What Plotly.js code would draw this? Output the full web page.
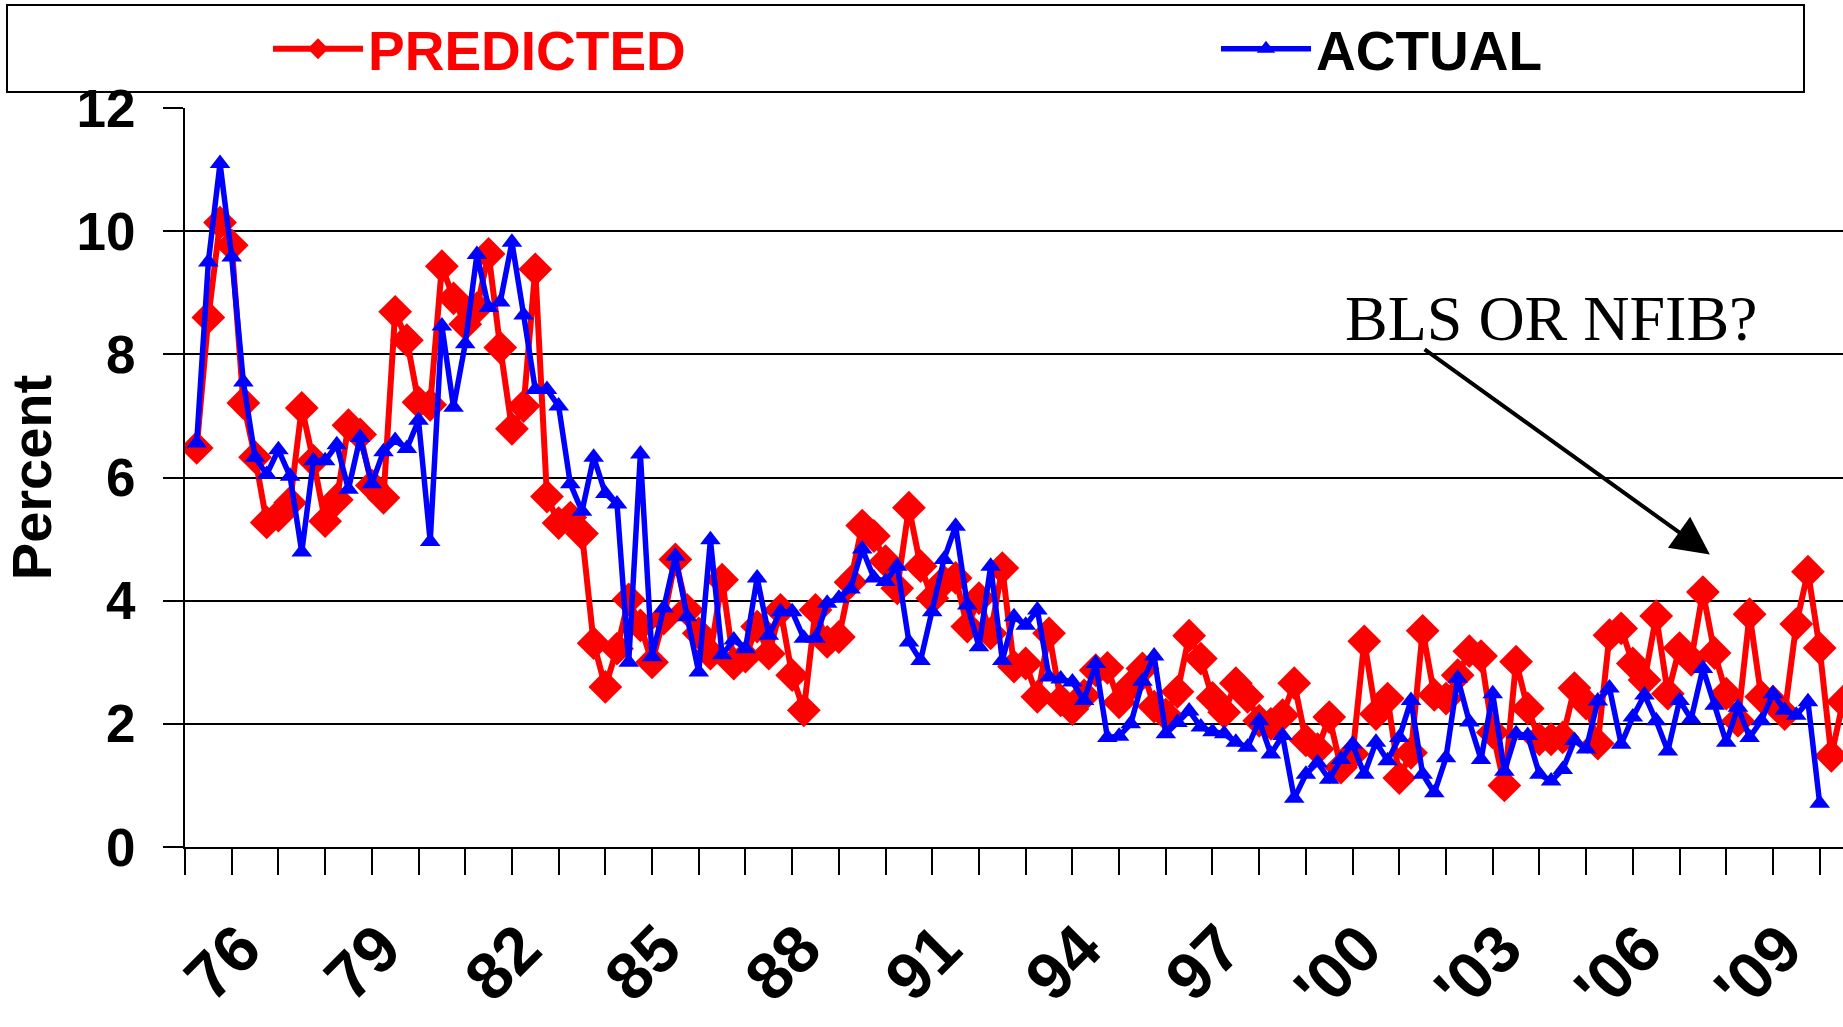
<!DOCTYPE html>
<html>
<head>
<meta charset="utf-8">
<script src="https://cdn.plot.ly/plotly-3.0.1.min.js"></script>
<style>
  html, body { margin: 0; padding: 0; background: #ffffff; }
  #chart { width: 1843px; height: 1027px; }
</style>
</head>
<body>
<div id="chart"></div>
<script>
// ---- Data (quarterly) ----
const firstYear = 1975;      // first observation: 1975 Q2
const firstQuarter = 2;

const predicted = [
  6.48, 8.60, 10.14, 9.77, 7.21, 6.33, 5.27, 5.38, 5.59, 7.13,
  6.27, 5.29, 5.64, 6.85, 6.70, 5.87, 5.67, 8.69, 8.23, 7.22,
  7.18, 9.43, 8.91, 8.49, 8.75, 9.63, 8.11, 6.79, 7.16, 9.38,
  5.69, 5.26, 5.35, 5.09, 3.31, 2.60, 3.22, 4.02, 3.60, 3.00,
  3.71, 4.67, 3.85, 3.47, 3.14, 4.34, 2.98, 3.09, 3.58, 3.14,
  3.85, 2.79, 2.22, 3.85, 3.33, 3.41, 4.30, 5.22, 5.05, 4.64,
  4.20, 5.51, 4.56, 4.04, 4.31, 4.37, 3.58, 4.04, 3.47, 4.53,
  2.93, 2.98, 2.44, 3.47, 2.38, 2.24, 2.46, 2.87, 2.91, 2.35,
  2.62, 2.90, 2.28, 2.15, 2.52, 3.43, 3.06, 2.42, 2.19, 2.66,
  2.44, 2.05, 2.00, 2.14, 2.66, 1.73, 1.59, 2.11, 1.29, 1.51,
  3.34, 2.16, 2.41, 1.12, 1.53, 3.51, 2.47, 2.41, 2.79, 3.18,
  3.10, 1.86, 1.00, 3.01, 2.25, 1.75, 1.75, 1.78, 2.58, 2.33,
  1.68, 3.44, 3.55, 2.98, 2.71, 3.75, 2.49, 3.23, 3.04, 4.14,
  3.15, 2.49, 2.05, 3.78, 2.44, 2.36, 2.16, 3.62, 4.47, 3.23,
  1.48, 2.36
];

const actual = [
  6.56, 9.50, 11.10, 9.58, 7.55, 6.33, 6.05, 6.45, 6.02, 4.79,
  6.27, 6.27, 6.53, 5.81, 6.65, 5.90, 6.42, 6.60, 6.47, 6.93,
  4.96, 8.46, 7.14, 8.17, 9.62, 8.76, 8.85, 9.82, 8.64, 7.43,
  7.43, 7.16, 5.90, 5.45, 6.33, 5.74, 5.57, 3.00, 6.38, 3.09,
  3.88, 4.72, 3.74, 2.84, 4.99, 3.12, 3.36, 3.22, 4.37, 3.44,
  3.82, 3.82, 3.39, 3.39, 3.96, 4.04, 4.19, 4.84, 4.37, 4.31,
  4.56, 3.33, 3.03, 3.82, 4.67, 5.21, 3.93, 3.25, 4.56, 3.03,
  3.74, 3.60, 3.85, 2.76, 2.73, 2.68, 2.38, 2.98, 1.78, 1.80,
  2.00, 2.69, 3.10, 1.84, 2.02, 2.21, 1.95, 1.87, 1.84, 1.70,
  1.62, 2.05, 1.51, 1.81, 0.79, 1.18, 1.37, 1.10, 1.42, 1.67,
  1.18, 1.70, 1.40, 1.78, 2.38, 1.18, 0.88, 1.45, 2.74, 2.03,
  1.42, 2.49, 1.23, 1.84, 1.81, 1.18, 1.07, 1.26, 1.73, 1.59,
  2.37, 2.58, 1.67, 2.11, 2.47, 2.05, 1.56, 2.38, 2.08, 2.90,
  2.30, 1.70, 2.27, 1.78, 2.05, 2.49, 2.22, 2.14, 2.36, 0.71
];

const yTickValues = [0, 2, 4, 6, 8, 10, 12];
const labelYears = [1976, 1979, 1982, 1985, 1988, 1991, 1994, 1997, 2000, 2003, 2006, 2009];
const labelText = ['76', '79', '82', '85', '88', '91', '94', '97', "'00", "'03", "'06", "'09"];

const seriesNames = ['PREDICTED', 'ACTUAL'];
const annotationText = 'BLS OR NFIB?';

// quarter positions as decimal years
function quarterX(n) {
  const out = [];
  for (let i = 0; i < n; i++) out.push(firstYear + (firstQuarter - 1) / 4 + i / 4);
  return out;
}

// ---- geometry helpers (plot area in pixels) ----
const W = 1843, H = 1027;
const M = { l: 185, r: 0, t: 108, b: 180 };
const plotW = W - M.l - M.r, plotH = H - M.t - M.b;
const px2x = px => (px - M.l) / plotW;
const py2y = py => (H - M.b - py) / plotH;

const RED = '#ff0000', BLUE = '#0000ff';
const SANS = 'Liberation Sans, Arial, Helvetica, sans-serif';
const SERIF = 'Liberation Serif, Times New Roman, serif';

const traces = [
  {
    x: quarterX(predicted.length), y: predicted,
    name: seriesNames[0], type: 'scatter', mode: 'lines+markers',
    line: { color: RED, width: 6 },
    marker: { symbol: 'diamond', size: 26, color: RED },
    legend: 'legend'
  },
  {
    x: quarterX(actual.length), y: actual,
    name: seriesNames[1], type: 'scatter', mode: 'lines+markers',
    line: { color: BLUE, width: 5.5 },
    marker: { symbol: 'triangle-up', size: 18, color: BLUE },
    legend: 'legend2'
  }
];

const layout = {
  width: W, height: H,
  margin: M,
  paper_bgcolor: '#ffffff', plot_bgcolor: '#ffffff',
  font: { family: SANS, color: '#000000' },
  xaxis: {
    range: [1975, 2010.5],
    showline: true, linecolor: '#000', linewidth: 2,
    showgrid: false, zeroline: false,
    tickmode: 'array',
    tickvals: labelYears.map(y => y + 0.2),
    ticktext: labelText,
    ticks: '',
    tickangle: -45,
    tickfont: { family: SANS, size: 66, weight: 'bold', color: '#000' },
    ticklabelstandoff: 34,
    minor: { tickmode: 'linear', tick0: 1975, dtick: 1, ticks: 'outside', ticklen: 26, tickwidth: 2, tickcolor: '#000', showgrid: false },
    fixedrange: true
  },
  yaxis: {
    range: [0, 12],
    tickmode: 'array', tickvals: yTickValues,
    showline: true, linecolor: '#000', linewidth: 2,
    showgrid: true, gridcolor: '#000', gridwidth: 2,
    zeroline: false,
    ticks: 'outside', ticklen: 20, tickwidth: 2, tickcolor: '#000',
    tickfont: { family: SANS, size: 53, weight: 'bold', color: '#000' },
    ticklabelstandoff: 17,
    title: { text: 'Percent', font: { family: SANS, size: 56, weight: 'bold', color: '#000' }, standoff: 24 },
    fixedrange: true
  },
  legend: {
    x: px2x(268), y: py2y(49), xanchor: 'left', yanchor: 'middle',
    orientation: 'h', bgcolor: 'rgba(0,0,0,0)', borderwidth: 0,
    itemwidth: 90,
    font: { family: SANS, size: 55, weight: 'bold', color: RED }
  },
  legend2: {
    x: px2x(1216), y: py2y(49), xanchor: 'left', yanchor: 'middle',
    orientation: 'h', bgcolor: 'rgba(0,0,0,0)', borderwidth: 0,
    itemwidth: 90,
    font: { family: SANS, size: 55, weight: 'bold', color: '#000' }
  },
  shapes: [
    { type: 'rect', xref: 'paper', yref: 'paper',
      x0: px2x(7), x1: px2x(1804), y0: py2y(92), y1: py2y(5),
      line: { color: '#000', width: 2 }, fillcolor: 'rgba(0,0,0,0)', layer: 'above' }
  ],
  annotations: [
    { xref: 'x', yref: 'y', x: 2004.26, y: 8.58, text: annotationText, showarrow: false,
      xanchor: 'center', yanchor: 'middle',
      font: { family: SERIF, size: 64, color: '#000' } },
    { xref: 'x', yref: 'y', x: 2007.65, y: 4.75, axref: 'x', ayref: 'y', ax: 2001.51, ay: 8.10,
      text: '', showarrow: true, arrowhead: 2, arrowwidth: 4, arrowsize: 1.9, arrowcolor: '#000' }
  ],
  showlegend: true
};

Plotly.newPlot('chart', traces, layout, { displayModeBar: false, staticPlot: true });
</script>
</body>
</html>
